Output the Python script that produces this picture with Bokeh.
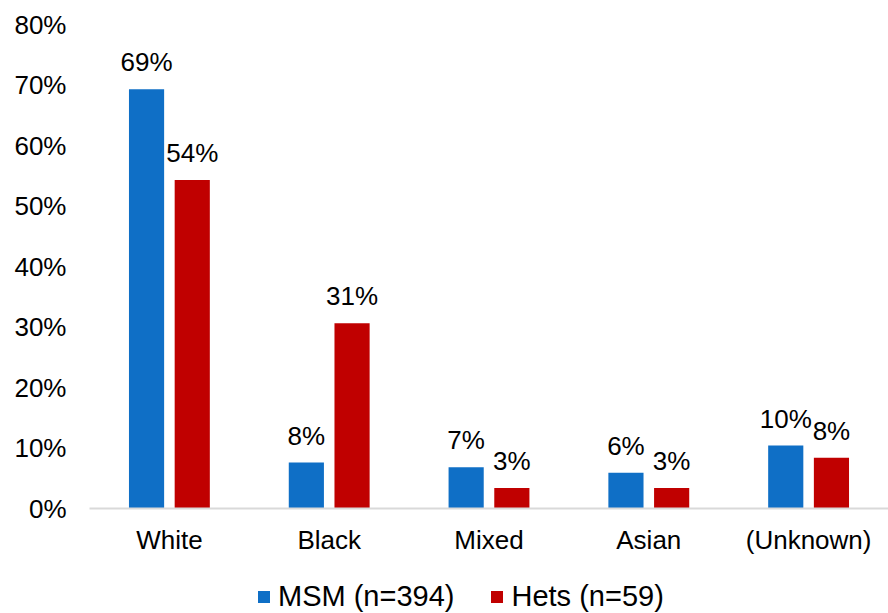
from bokeh.plotting import figure
from bokeh.layouts import column
from bokeh.models import (ColumnDataSource, FactorRange, FixedTicker, PrintfTickFormatter,
                          Legend, LegendItem, Range1d)
from bokeh.transform import dodge
from bokeh.core.properties import value
from bokeh.embed import file_html
from bokeh.resources import INLINE

# Ethnicity breakdown (% of each group)
categories = ["White", "Black", "Mixed", "Asian", "(Unknown)"]
msm_values = [69.3, 7.6, 6.8, 5.9, 10.4]
hets_values = [54.3, 30.6, 3.4, 3.4, 8.4]
series_names = ["MSM (n=394)", "Hets (n=59)"]
y_ticks = [0, 10, 20, 30, 40, 50, 60, 70, 80]

BLUE = "#0F6FC6"
RED = "#C00000"
FONT = "Liberation Sans"

src = ColumnDataSource(dict(
    cat=categories,
    msm=msm_values,
    hets=hets_values,
    msm_lbl=[f"{round(v)}%" for v in msm_values],
    hets_lbl=[f"{round(v)}%" for v in hets_values],
))

x_range = FactorRange(*categories, range_padding=0)
p = figure(width=888, height=560, x_range=x_range,
           y_range=Range1d(0, 80), output_backend="svg", toolbar_location=None,
           min_border_left=89, min_border_right=0, min_border_top=24, min_border_bottom=52)

bw = 0.22
off = 0.143
p.vbar(x=dodge("cat", -off, range=x_range), top="msm", width=bw, source=src,
       fill_color=BLUE, line_color=None)
p.vbar(x=dodge("cat", off, range=x_range), top="hets", width=bw, source=src,
       fill_color=RED, line_color=None)

for col, lbl, dx in (("msm", "msm_lbl", -off), ("hets", "hets_lbl", off)):
    p.text(x=dodge("cat", dx, range=x_range), y=col, text=lbl, source=src,
           text_align="center", text_baseline="alphabetic", y_offset=-27,
           text_font=value(FONT), text_font_size="26px", text_color="#000000")

p.outline_line_color = None
p.grid.grid_line_color = None
p.background_fill_color = "white"
p.border_fill_color = "white"

p.yaxis.ticker = FixedTicker(ticks=y_ticks)
p.yaxis.formatter = PrintfTickFormatter(format="%d%%")
p.yaxis.axis_line_color = None
p.yaxis.major_tick_line_color = None
p.yaxis.minor_tick_line_color = None
p.yaxis.major_label_standoff = 17
p.yaxis.major_label_text_font = FONT
p.yaxis.major_label_text_font_size = "26px"
p.yaxis.major_label_text_color = "#000000"

p.xaxis.axis_line_color = "#D9D9D9"
p.xaxis.axis_line_width = 2
p.xaxis.major_tick_line_color = None
p.xaxis.minor_tick_line_color = None
p.xaxis.major_label_standoff = 10
p.xaxis.major_label_text_font = FONT
p.xaxis.major_label_text_font_size = "26px"
p.xaxis.major_label_text_color = "#000000"

# Legend strip under the chart
leg = figure(width=888, height=53, x_range=x_range, y_range=Range1d(0, 1),
             output_backend="svg", toolbar_location=None,
             x_axis_location=None, y_axis_location=None,
             min_border=0, min_border_left=0, min_border_right=0,
             min_border_top=0, min_border_bottom=0)
leg.outline_line_color = None
leg.grid.grid_line_color = None
leg.background_fill_color = "white"
leg.border_fill_color = "white"
k_msm = leg.vbar(x=dodge("cat", -off, range=x_range), top="msm", width=bw, source=src,
                 fill_color=BLUE, line_color=None, visible=False)
k_hets = leg.vbar(x=dodge("cat", off, range=x_range), top="hets", width=bw, source=src,
                  fill_color=RED, line_color=None, visible=False)

legend = Legend(items=[LegendItem(label=series_names[0], renderers=[k_msm]),
                       LegendItem(label=series_names[1], renderers=[k_hets])],
                orientation="horizontal", location=(167, 0),
                glyph_width=15, glyph_height=15, label_standoff=7, spacing=35,
                padding=0, margin=0, border_line_color=None, background_fill_alpha=0,
                inactive_fill_alpha=0,
                label_text_font=FONT, label_text_font_size="29px",
                label_text_color="#000000")
leg.add_layout(legend, "center")

layout = column(p, leg, spacing=0)
open("out.html", "w").write(file_html(layout, INLINE))
